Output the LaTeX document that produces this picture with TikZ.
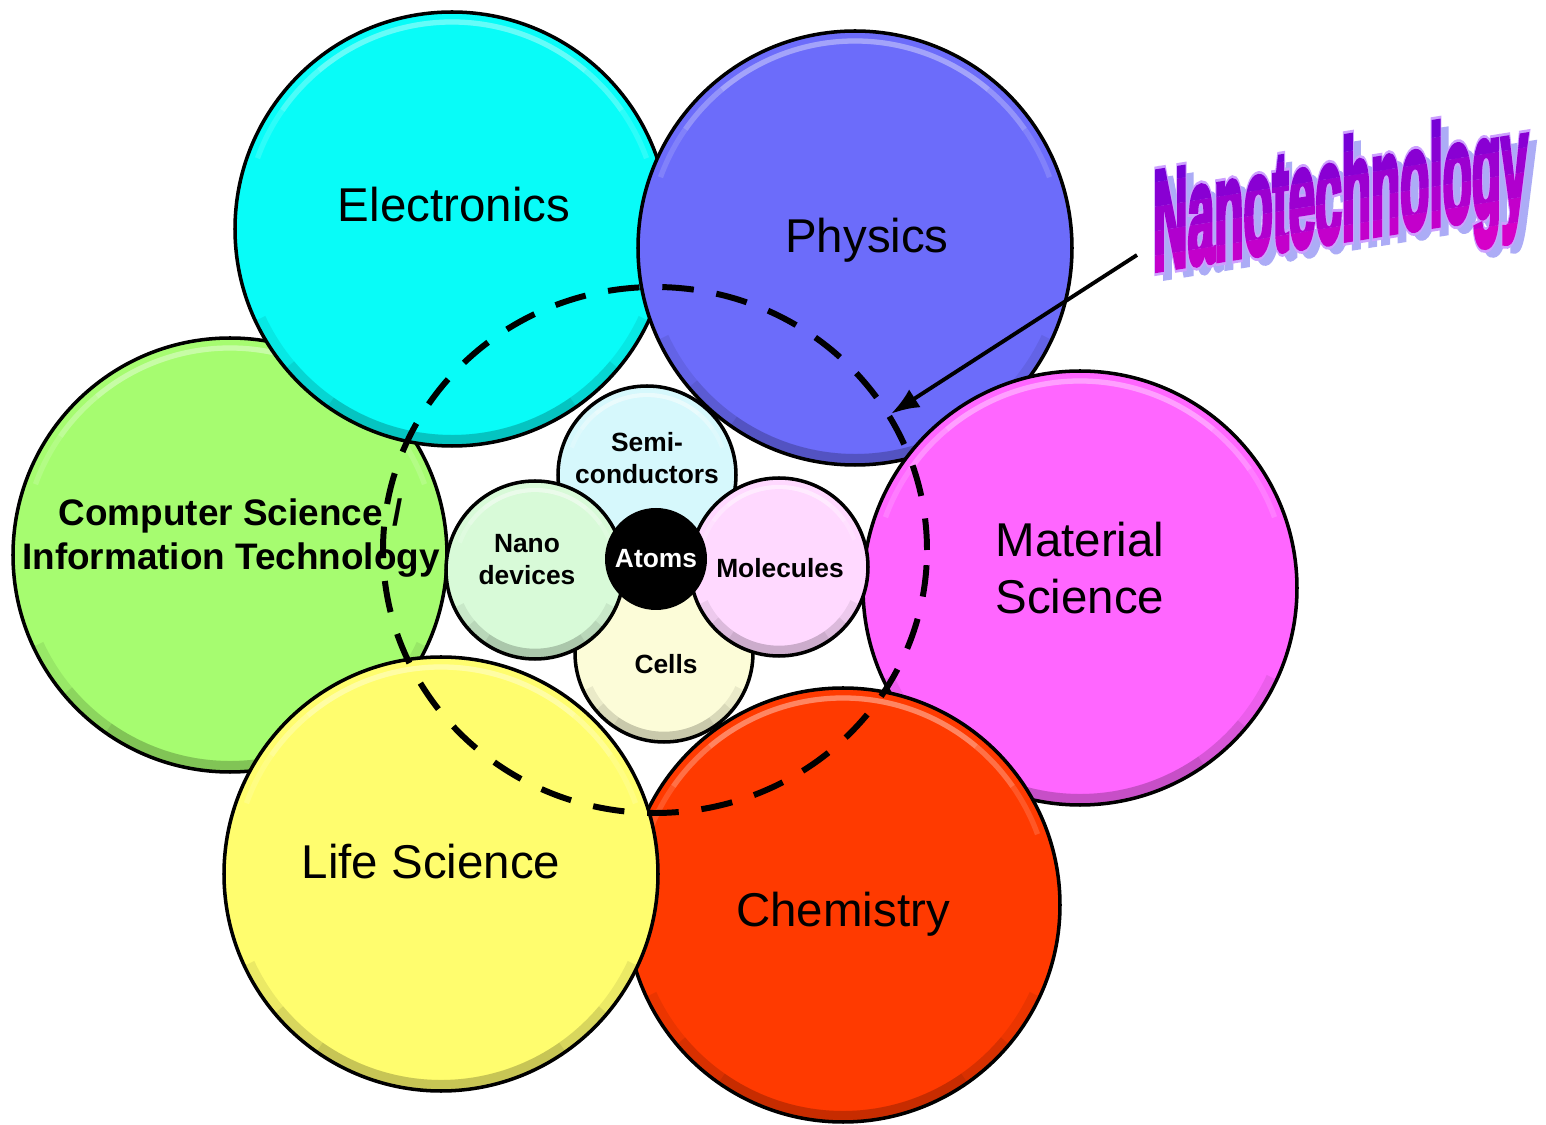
\documentclass[tikz,border=0pt]{standalone}
\usepackage{fontspec}
\setmainfont{Liberation Sans}
\newfontface\nanoface{Liberation Sans Bold}[FakeBold=5]
\newfontface\nanorimface{Liberation Sans Bold}[FakeBold=9]
\usetikzlibrary{arrows.meta,shapes.geometric}
\definecolor{elec}{RGB}{8,252,248}
\definecolor{phys}{RGB}{108,108,250}
\definecolor{comp}{RGB}{166,252,112}
\definecolor{matl}{RGB}{255,102,255}
\definecolor{chem}{RGB}{255,58,0}
\definecolor{life}{RGB}{255,253,110}
\definecolor{semi}{RGB}{214,248,252}
\definecolor{nanod}{RGB}{216,250,216}
\definecolor{molec}{RGB}{255,217,255}
\definecolor{cells}{RGB}{252,252,216}
\definecolor{nanotop}{RGB}{118,0,214}
\definecolor{nanobot}{RGB}{214,0,200}
\definecolor{nanoedge}{RGB}{205,160,255}
\definecolor{nanoshade}{RGB}{172,172,246}
\tikzset{
  bigdisc/.style={circle, draw=black, line width=1pt, minimum size=4.34cm, inner sep=0pt,
    path picture={
      \foreach \a in {70,55,40}
        \draw[white, opacity=.15, line width=1.5pt] ([shift={(90+\a:2.07)}]path picture bounding box.center) arc[start angle=90+\a, end angle=90-\a, radius=2.07];
      \foreach \a in {65,50,35}
        \draw[black, opacity=.08, line width=4pt] ([shift={(270-\a:2.13)}]path picture bounding box.center) arc[start angle=270-\a, end angle=270+\a, radius=2.13];}},
  smalldisc/.style={circle, draw=black, line width=1pt, minimum size=1.78cm, inner sep=0pt,
    path picture={
      \foreach \a in {70,55,40}
        \draw[white, opacity=.2, line width=1.2pt] ([shift={(90+\a:0.8)}]path picture bounding box.center) arc[start angle=90+\a, end angle=90-\a, radius=0.8];
      \foreach \a in {65,50,35}
        \draw[black, opacity=.07, line width=3pt] ([shift={(270-\a:0.84)}]path picture bounding box.center) arc[start angle=270-\a, end angle=270+\a, radius=0.84];}},
  bigtext/.style={font=\fontsize{13.5}{16.2}\selectfont, align=center},
  cstext/.style={font=\bfseries\fontsize{10.5}{12.5}\selectfont, align=center},
  smalltext/.style={font=\bfseries\fontsize{7.5}{9.1}\selectfont, align=center},
  nanoword/.style={font=\nanoface\fontsize{40}{40}\selectfont, xscale=0.34, anchor=base west, inner sep=0pt, transform shape},
}
\begin{document}
\begin{tikzpicture}
\fill[white] (0,0) rectangle (15.46,11.25);
\useasboundingbox (0,0) rectangle (15.46,11.25);
% big fields
\node[bigdisc, fill=comp] (comp) at (2.30,5.70) {};
\node[bigdisc, fill=elec] (elec) at (4.52,8.96) {};
\node[bigdisc, fill=phys] (phys) at (8.55,8.77) {};
\node[bigdisc, fill=matl] (matl) at (10.80,5.37) {};
\node[bigdisc, fill=chem] (chem) at (8.43,2.20) {};
\node[bigdisc, fill=life] (life) at (4.41,2.51) {};
% small ones in the middle
\node[smalldisc, fill=semi] (semi) at (6.47,6.50) {};
\node[smalldisc, fill=cells] (cells) at (6.64,4.72) {};
\node[smalldisc, fill=nanod] (nanod) at (5.35,5.55) {};
\node[smalldisc, fill=molec] (molec) at (7.79,5.58) {};
\node[circle, fill=black, minimum size=1.02cm] (atoms) at (6.56,5.66) {};
% labels
\node[bigtext, anchor=base] (elec-l) at (4.54,9.03) {Electronics};
\node[bigtext, anchor=base] (phys-l) at (8.67,8.72) {Physics};
\node[bigtext] (matl-l) at (10.80,5.57) {Material\\Science};
\node[bigtext, anchor=base] (life-l) at (4.31,2.46) {Life Science};
\node[bigtext, anchor=base] (chem-l) at (8.43,1.98) {Chemistry};
\node[cstext] (comp-l) at (2.31,5.87) {Computer Science /\\Information Technology};
\node[smalltext] (semi-l) at (6.47,6.67) {Semi-\\conductors};
\node[smalltext] (nanod-l) at (5.27,5.65) {Nano\\devices};
\node[smalltext, anchor=base, text=white] (atoms-l) at (6.56,5.57) {Atoms};
\node[smalltext, anchor=base] (molec-l) at (7.80,5.47) {Molecules};
\node[smalltext, anchor=base] (cells-l) at (6.66,4.51) {Cells};
% nano zone
\node[ellipse, draw=black, line width=1.7pt, dash pattern=on 9pt off 6.5pt, minimum width=5.44cm, minimum height=5.26cm, inner sep=0pt] (zone) at (6.55,5.75) {};
\coordinate (nano-arrow) at (11.37,8.70);
\draw[line width=1.1pt, -{Latex[length=8pt,width=6pt]}] (nano-arrow) -- (zone.30);
% Nanotechnology word art
\begin{scope}[shift={(11.53,8.55)}, yslant=0.16]
  \node[nanoword, text=nanoshade] (nano-shadow) at (0.08,-0.09) {Nanotechnology};
  \node[nanoword, font=\nanorimface\fontsize{40}{40}\selectfont, text=nanoedge] (nano-rim) at (0,0) {Nanotechnology};
  \foreach \k in {0,...,5}{
    \pgfmathtruncatemacro{\mix}{\k*20}
    \begin{scope}
      \clip (-0.2,{-0.35+\k*0.245}) rectangle (4.2,{-0.35+(\k+1)*0.245});
      \node[nanoword, text=nanotop!\mix!nanobot] (nano-\k) at (0,0) {Nanotechnology};
    \end{scope}}
\end{scope}
\end{tikzpicture}
\end{document}
